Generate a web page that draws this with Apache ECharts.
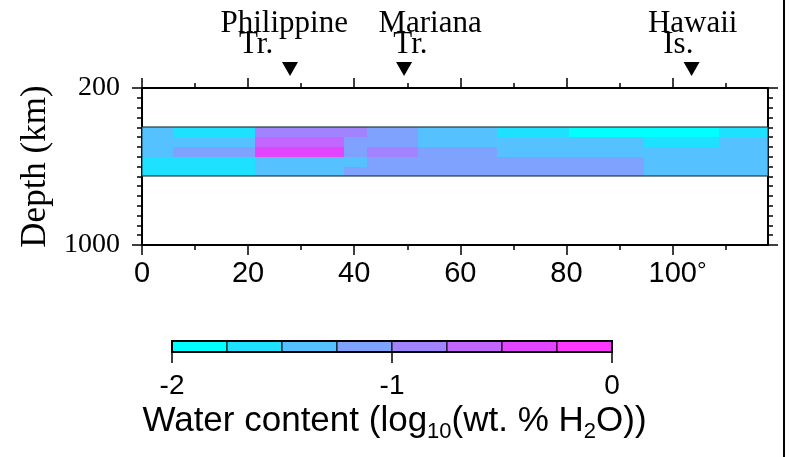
<!DOCTYPE html>
<html>
<head>
<meta charset="utf-8">
<script src="https://cdn.jsdelivr.net/npm/echarts@6/dist/echarts.min.js"></script>
<style>
html,body{margin:0;padding:0;background:#fff;}
#c{width:789px;height:457px;}
</style>
</head>
<body>
<div id="c"></div>
<script>
// ---------------- data ----------------
const xRange = [0, 118];                 // distance along profile (deg)
const depthRange = [200, 1000];          // depth (km)
const xMajorTicks = [0, 20, 40, 60, 80, 100];
const xMinorTicks = [10, 30, 50, 70, 90, 110];
const xTickLabels = ['0', '20', '40', '60', '80', '100°'];
const yMajorTicks = [200, 1000];
const yMinorTicks = [250, 300, 350, 400, 450, 500, 550, 600, 650, 700, 750, 800, 850, 900, 950];
const yTickLabels = ['200', '1000'];

// model block edges
const xEdges = [0, 5.8, 21.3, 38.0, 42.5, 52.1, 67.0, 80.5, 94.6, 108.8, 118];
const depthEdges = [400, 450, 500, 550, 600, 650];

// log10 water content (wt.% H2O) per depth layer, one value per block
const layer400 = [-1.38, -1.62, -0.88, -0.88, -1.12, -1.38, -1.62, -1.88, -1.88, -1.62];
const layer450 = [-1.38, -1.38, -0.62, -1.12, -1.12, -1.38, -1.38, -1.38, -1.62, -1.38];
const layer500 = [-1.38, -1.12, -0.38, -1.12, -0.88, -1.12, -1.38, -1.38, -1.38, -1.38];
const layer550 = [-1.62, -1.62, -1.38, -1.38, -1.12, -1.12, -1.12, -1.12, -1.38, -1.38];
const layer600 = [-1.62, -1.62, -1.38, -1.12, -1.12, -1.12, -1.12, -1.12, -1.38, -1.38];
const waterLayers = [layer400, layer450, layer500, layer550, layer600];

// colour scale
const cbEdges = [-2, -1.75, -1.5, -1.25, -1, -0.75, -0.5, -0.25, 0];
const cbColors = ['#00ffff', '#1ee1ff', '#55c1ff', '#80a2ff', '#a283ff', '#c266ff', '#e245ff', '#ff38ff'];
const cbTicks = [-2, -1, 0];

// surface features
const markerX = [27.9, 49.4, 103.6];
const markerLine1 = ['Philippine', 'Mariana', 'Hawaii'];
const markerLine2 = ['Tr.', 'Tr.', 'Is.'];
const label1X = [26.8, 54.3, 103.8];
const label2X = [21.5, 50.6, 101.1];

// ---------------- chart ----------------
const SERIF = '"Liberation Serif", "Times New Roman", serif';
const SANS = '"Liberation Sans", Arial, Helvetica, sans-serif';

function colorFor(v) {
  for (let i = 0; i < cbColors.length; i++) {
    if (v < cbEdges[i + 1]) return cbColors[i];
  }
  return cbColors[cbColors.length - 1];
}

const cellData = [];
waterLayers.forEach((row, r) => row.forEach((v, c) => {
  cellData.push([xEdges[c], xEdges[c + 1], depthEdges[r], depthEdges[r + 1], v]);
}));
const outlineData = [[xEdges[0], xEdges[xEdges.length - 1], depthEdges[0], depthEdges[depthEdges.length - 1]]];
const cbData = cbColors.map((col, i) => [cbEdges[i], cbEdges[i + 1], i]);

function rectFrom(api, xa, xb, ya, yb) {
  const a = api.coord([xa, ya]);
  const b = api.coord([xb, yb]);
  const x0 = Math.round(Math.min(a[0], b[0])), x1 = Math.round(Math.max(a[0], b[0]));
  const y0 = Math.round(Math.min(a[1], b[1])), y1 = Math.round(Math.max(a[1], b[1]));
  return {x: x0, y: y0, width: x1 - x0, height: y1 - y0};
}

const blackLine = {color: '#000', width: 2};
const tickStyle = {color: '#000', width: 1.5};

function xLabelText(v) {
  const t = xTickLabels[xMajorTicks.indexOf(v)];
  if (t.endsWith('°')) return '{n|' + t.slice(0, -1) + '}{d|°}';
  return '{m|' + t + '}';
}

function mainX(position, ticks, len, labels) {
  return {
    gridIndex: 0, type: 'value', min: xRange[0], max: xRange[1], position: position,
    axisLine: {show: len > 6, onZero: false, lineStyle: blackLine},
    axisTick: {show: true, length: len, customValues: ticks, lineStyle: tickStyle},
    axisLabel: labels ? {
      show: true, customValues: xMajorTicks, margin: 14, color: '#000', fontFamily: SANS, fontSize: 29,
      formatter: xLabelText,
      rich: {
        m: {fontFamily: SANS, fontSize: 29, color: '#000', lineHeight: 29},
        n: {fontFamily: SANS, fontSize: 29, color: '#000', lineHeight: 29, padding: [0, 0, 0, 10]},
        d: {fontFamily: SANS, fontSize: 24, color: '#000', lineHeight: 24, verticalAlign: 'top'}
      }
    } : {show: false},
    splitLine: {show: false}
  };
}
function mainY(position, ticks, len, labels) {
  return {
    gridIndex: 0, type: 'value', min: depthRange[0], max: depthRange[1], inverse: true, position: position,
    axisLine: {show: len > 6, onZero: false, lineStyle: blackLine},
    axisTick: {show: true, length: len, customValues: ticks, lineStyle: tickStyle},
    axisLabel: labels ? {
      show: true, customValues: yMajorTicks, margin: 22, color: '#000', fontFamily: SERIF, fontSize: 28,
      formatter: v => yTickLabels[yMajorTicks.indexOf(v)]
    } : {show: false},
    splitLine: {show: false},
    name: labels ? 'Depth (km)' : '',
    nameLocation: 'middle', nameGap: 85, nameRotate: 90,
    nameTextStyle: {fontFamily: SERIF, fontSize: 35, color: '#000'}
  };
}

const option = {
  animation: false,
  backgroundColor: '#fff',
  title: {
    left: 'center', top: 399, padding: 0,
    text: '{m|Water content (log}{s|10}{m|(wt. % H}{s|2}{m|O))}',
    textStyle: {
      fontFamily: SANS, fontSize: 35, color: '#000', fontWeight: 'normal',
      rich: {
        m: {fontFamily: SANS, fontSize: 35, color: '#000', lineHeight: 44, verticalAlign: 'middle'},
        s: {fontFamily: SANS, fontSize: 22, color: '#000', lineHeight: 22, verticalAlign: 'bottom'}
      }
    }
  },
  grid: [
    {left: 142, top: 88, width: 626, height: 157, containLabel: false, outerBoundsMode: 'none'},
    {left: 172, top: 341, width: 440, height: 11, containLabel: false, outerBoundsMode: 'none'}
  ],
  xAxis: [
    mainX('bottom', xMajorTicks, 10, true),
    mainX('bottom', xMinorTicks, 5, false),
    mainX('top', xMajorTicks, 10, false),
    mainX('top', xMinorTicks, 5, false),
    {
      gridIndex: 1, type: 'value', min: cbEdges[0], max: cbEdges[cbEdges.length - 1], position: 'bottom',
      axisLine: {show: false},
      axisTick: {show: true, length: 11, customValues: cbTicks, lineStyle: tickStyle},
      axisLabel: {show: true, customValues: cbTicks, margin: 20, color: '#000', fontFamily: SANS, fontSize: 28,
                  formatter: v => String(v)},
      splitLine: {show: false}
    }
  ],
  yAxis: [
    mainY('left', yMajorTicks, 10, true),
    mainY('left', yMinorTicks, 5, false),
    mainY('right', yMajorTicks, 10, false),
    mainY('right', yMinorTicks, 5, false),
    {gridIndex: 1, type: 'value', min: 0, max: 1, show: false}
  ],
  series: [
    {
      type: 'custom', xAxisIndex: 0, yAxisIndex: 0, data: cellData, silent: true, z: 2,
      encode: {x: [0, 1], y: [2, 3]},
      renderItem: (params, api) => ({
        type: 'rect',
        shape: rectFrom(api, api.value(0), api.value(1), api.value(2), api.value(3)),
        style: {fill: colorFor(api.value(4))}
      })
    },
    {
      type: 'custom', xAxisIndex: 0, yAxisIndex: 0, data: outlineData, silent: true, z: 3,
      encode: {x: [0, 1], y: [2, 3]},
      renderItem: (params, api) => ({
        type: 'rect',
        shape: rectFrom(api, api.value(0), api.value(1), api.value(2), api.value(3)),
        style: {fill: null, stroke: 'rgba(20,50,60,0.75)', lineWidth: 1.3}
      })
    },
    {
      type: 'scatter', xAxisIndex: 0, yAxisIndex: 0, silent: true, clip: false, z: 10,
      data: markerX.map(x => [x, depthRange[0]]),
      symbol: 'triangle', symbolRotate: 180, symbolSize: [16, 14], symbolOffset: [0, -19],
      itemStyle: {color: '#000', opacity: 1}
    },
    {
      type: 'scatter', xAxisIndex: 0, yAxisIndex: 0, silent: true, clip: false, z: 10,
      data: label1X.map((x, i) => ({value: [x, depthRange[0]], name: markerLine1[i]})),
      symbolSize: 1, itemStyle: {color: 'rgba(0,0,0,0)', opacity: 1},
      label: {show: true, position: 'inside', offset: [0, -64], formatter: '{b}', opacity: 1,
              fontFamily: SERIF, fontSize: 31, color: '#000'}
    },
    {
      type: 'scatter', xAxisIndex: 0, yAxisIndex: 0, silent: true, clip: false, z: 10,
      data: label2X.map((x, i) => ({value: [x, depthRange[0]], name: markerLine2[i]})),
      symbolSize: 1, itemStyle: {color: 'rgba(0,0,0,0)', opacity: 1},
      label: {show: true, position: 'inside', offset: [0, -43], formatter: '{b}', opacity: 1,
              fontFamily: SERIF, fontSize: 31, color: '#000'}
    },
    {
      type: 'custom', xAxisIndex: 4, yAxisIndex: 4, data: cbData, silent: true, z: 2,
      encode: {x: [0, 1]},
      renderItem: (params, api) => ({
        type: 'rect',
        shape: rectFrom(api, api.value(0), api.value(1), 0, 1),
        style: {fill: cbColors[api.value(2)], stroke: '#000', lineWidth: 1}
      })
    },
    {
      type: 'custom', xAxisIndex: 4, yAxisIndex: 4, data: [[cbEdges[0], cbEdges[cbEdges.length - 1]]], silent: true, z: 3,
      encode: {x: [0, 1]},
      renderItem: (params, api) => ({
        type: 'rect',
        shape: rectFrom(api, api.value(0), api.value(1), 0, 1),
        style: {fill: null, stroke: '#000', lineWidth: 2}
      })
    }
  ],
  graphic: [
    {type: 'line', shape: {x1: 784, y1: 0, x2: 784, y2: 457}, style: {stroke: '#000', lineWidth: 2}, silent: true}
  ]
};

const chart = echarts.init(document.getElementById('c'), null, {renderer: 'canvas'});
chart.setOption(option);
</script>
</body>
</html>
